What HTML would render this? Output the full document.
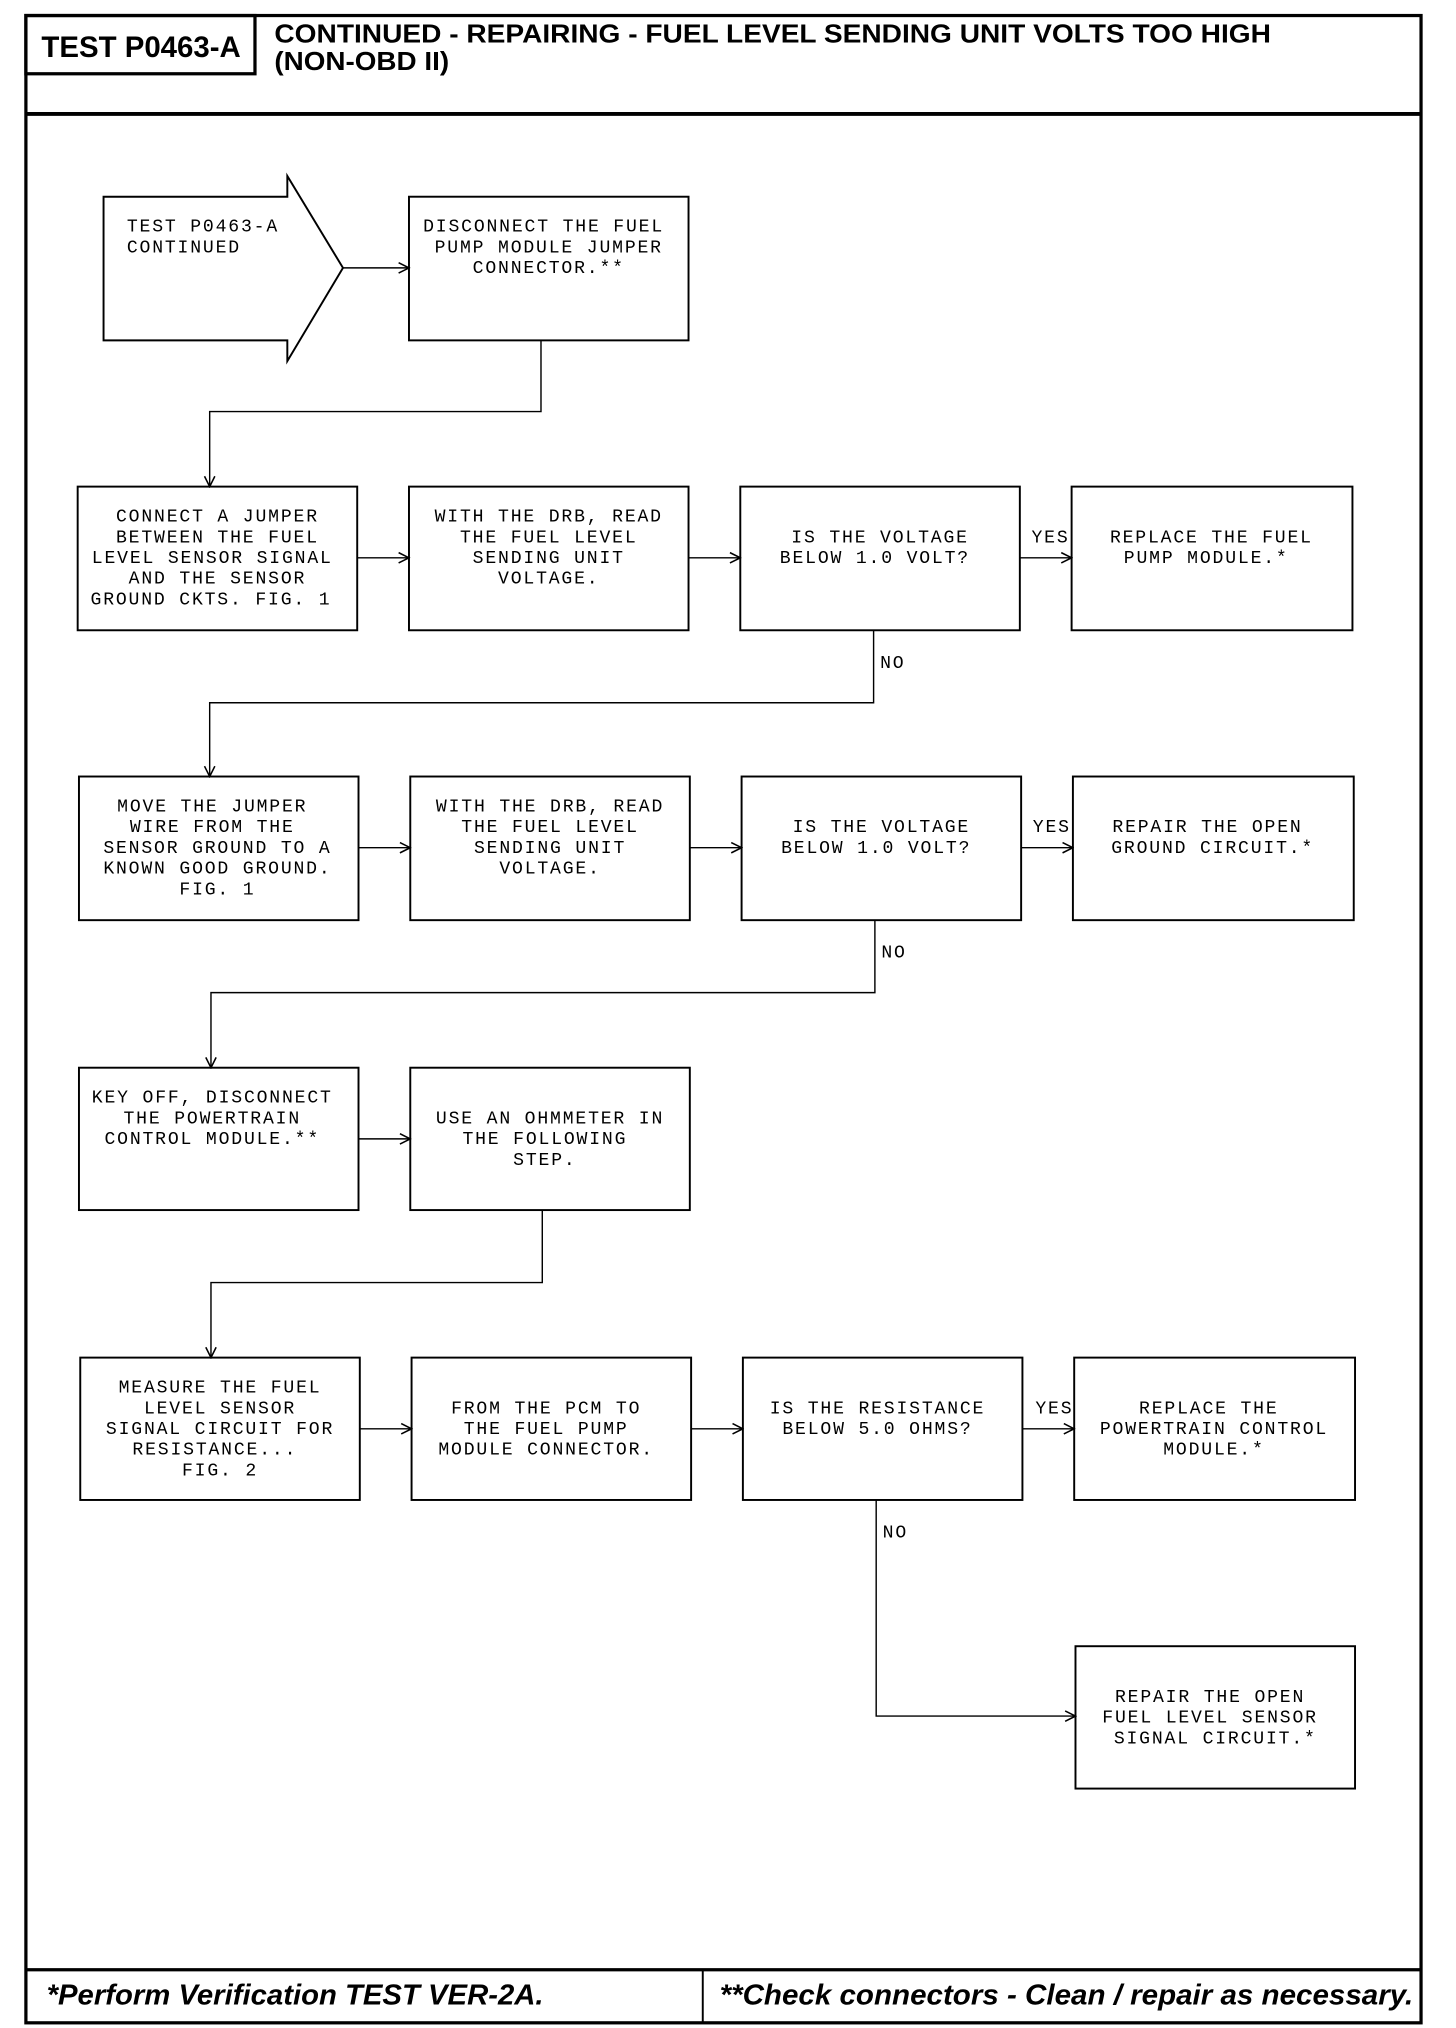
<!DOCTYPE html>
<html><head><meta charset="utf-8"><style>
html,body{margin:0;padding:0;background:#fff;}
svg{display:block;}
.m{font-family:"Liberation Mono",monospace;font-size:14px;letter-spacing:1.4px;text-anchor:middle;fill:#000;}
.l{font-family:"Liberation Mono",monospace;font-size:14px;letter-spacing:1.4px;fill:#000;}
.h{font-family:"Liberation Sans",sans-serif;font-weight:bold;fill:#000;}
</style></head><body>
<svg width="1456" height="2028" viewBox="0 0 1125 1567" xmlns="http://www.w3.org/2000/svg">
<defs><marker id="a" markerWidth="10" markerHeight="10" refX="9" refY="5" orient="auto" markerUnits="userSpaceOnUse"><path d="M1,1 L9,5 L1,9" fill="none" stroke="#000" stroke-width="1.2"/></marker></defs>
<g fill="none" stroke="#000">
<rect x="20" y="12" width="1078" height="1551" stroke-width="2.5"/>
<line x1="20" y1="88" x2="1098" y2="88" stroke-width="3"/>
<rect x="20" y="12" width="177" height="45" stroke-width="2.5"/>
<line x1="20" y1="1522" x2="1098" y2="1522" stroke-width="2.5"/>
<line x1="543" y1="1522" x2="543" y2="1563" stroke-width="1.5"/>
<path d="M80,152 L222,152 L222,136 L265,207 L222,279 L222,263 L80,263 Z" stroke-width="1.5"/>
<g stroke-width="1.5">
<rect x="316" y="152" width="216" height="111"/>
<rect x="60" y="376" width="216" height="111"/><rect x="316" y="376" width="216" height="111"/><rect x="572" y="376" width="216" height="111"/><rect x="828" y="376" width="217" height="111"/>
<rect x="61" y="600" width="216" height="111"/><rect x="317" y="600" width="216" height="111"/><rect x="573" y="600" width="216" height="111"/><rect x="829" y="600" width="217" height="111"/>
<rect x="61" y="825" width="216" height="110"/><rect x="317" y="825" width="216" height="110"/>
<rect x="62" y="1049" width="216" height="110"/><rect x="318" y="1049" width="216" height="110"/><rect x="574" y="1049" width="216" height="110"/><rect x="830" y="1049" width="217" height="110"/>
<rect x="831" y="1272" width="216" height="110"/>
</g>
<g stroke-width="1.1" marker-end="url(#a)">
<line x1="265" y1="207" x2="316" y2="207"/>
<polyline points="418,263 418,318 162,318 162,376"/>
<line x1="276" y1="431" x2="316" y2="431"/><line x1="532" y1="431" x2="572" y2="431"/><line x1="788" y1="431" x2="828" y2="431"/>
<polyline points="675,487 675,543 162,543 162,600"/>
<line x1="277" y1="655" x2="317" y2="655"/><line x1="533" y1="655" x2="573" y2="655"/><line x1="789" y1="655" x2="829" y2="655"/>
<polyline points="676,711 676,767 163,767 163,825"/>
<line x1="277" y1="880" x2="317" y2="880"/>
<polyline points="419,935 419,991 163,991 163,1049"/>
<line x1="278" y1="1104" x2="318" y2="1104"/><line x1="534" y1="1104" x2="574" y2="1104"/><line x1="790" y1="1104" x2="830" y2="1104"/>
<polyline points="677,1159 677,1326 831,1326"/>
</g>
</g>
<text class="h" x="32" y="44" font-size="23" textLength="154" lengthAdjust="spacingAndGlyphs">TEST P0463-A</text>
<text class="h" x="212" y="33" font-size="20" textLength="770" lengthAdjust="spacingAndGlyphs">CONTINUED - REPAIRING - FUEL LEVEL SENDING UNIT VOLTS TOO HIGH</text>
<text class="h" x="212" y="54" font-size="20" textLength="135" lengthAdjust="spacingAndGlyphs">(NON-OBD II)</text>
<text class="h" x="36" y="1549" font-size="22" font-style="italic" textLength="384" lengthAdjust="spacingAndGlyphs">*Perform Verification TEST VER-2A.</text>
<text class="h" x="556" y="1549" font-size="22" font-style="italic" textLength="536" lengthAdjust="spacingAndGlyphs">**Check connectors - Clean / repair as necessary.</text>

<text class="l" x="98" y="179">TEST P0463-A</text><text class="l" x="98" y="195">CONTINUED</text>
<text class="m" x="420"><tspan x="420" y="179">DISCONNECT THE FUEL</tspan><tspan x="424" y="195">PUMP MODULE JUMPER</tspan><tspan x="424" y="211">CONNECTOR.**</tspan></text>

<text class="m"><tspan x="168" y="403">CONNECT A JUMPER</tspan><tspan x="168" y="419">BETWEEN THE FUEL</tspan><tspan x="164" y="435">LEVEL SENSOR SIGNAL</tspan><tspan x="168" y="451">AND THE SENSOR</tspan><tspan x="163" y="467">GROUND CKTS. FIG. 1</tspan></text>
<text class="m"><tspan x="424" y="403">WITH THE DRB, READ</tspan><tspan x="424" y="419">THE FUEL LEVEL</tspan><tspan x="424" y="435">SENDING UNIT</tspan><tspan x="424" y="451">VOLTAGE.</tspan></text>
<text class="m"><tspan x="680" y="419">IS THE VOLTAGE</tspan><tspan x="676" y="435">BELOW 1.0 VOLT?</tspan></text>
<text class="m"><tspan x="936" y="419">REPLACE THE FUEL</tspan><tspan x="932" y="435">PUMP MODULE.*</tspan></text>
<text class="l" x="797" y="419">YES</text><text class="l" x="680" y="516">NO</text>

<text class="m"><tspan x="164" y="627">MOVE THE JUMPER</tspan><tspan x="164" y="643">WIRE FROM THE</tspan><tspan x="168" y="659">SENSOR GROUND TO A</tspan><tspan x="168" y="675">KNOWN GOOD GROUND.</tspan><tspan x="168" y="691">FIG. 1</tspan></text>
<text class="m"><tspan x="425" y="627">WITH THE DRB, READ</tspan><tspan x="425" y="643">THE FUEL LEVEL</tspan><tspan x="425" y="659">SENDING UNIT</tspan><tspan x="425" y="675">VOLTAGE.</tspan></text>
<text class="m"><tspan x="681" y="643">IS THE VOLTAGE</tspan><tspan x="677" y="659">BELOW 1.0 VOLT?</tspan></text>
<text class="m"><tspan x="933" y="643">REPAIR THE OPEN</tspan><tspan x="937" y="659">GROUND CIRCUIT.*</tspan></text>
<text class="l" x="798" y="643">YES</text><text class="l" x="681" y="740">NO</text>

<text class="m"><tspan x="164" y="852">KEY OFF, DISCONNECT</tspan><tspan x="164" y="868">THE POWERTRAIN</tspan><tspan x="164" y="884">CONTROL MODULE.**</tspan></text>
<text class="m"><tspan x="425" y="868">USE AN OHMMETER IN</tspan><tspan x="421" y="884">THE FOLLOWING</tspan><tspan x="421" y="900">STEP.</tspan></text>

<text class="m"><tspan x="170" y="1076">MEASURE THE FUEL</tspan><tspan x="170" y="1092">LEVEL SENSOR</tspan><tspan x="170" y="1108">SIGNAL CIRCUIT FOR</tspan><tspan x="166" y="1124">RESISTANCE...</tspan><tspan x="170" y="1140">FIG. 2</tspan></text>
<text class="m"><tspan x="422" y="1092">FROM THE PCM TO</tspan><tspan x="422" y="1108">THE FUEL PUMP</tspan><tspan x="422" y="1124">MODULE CONNECTOR.</tspan></text>
<text class="m"><tspan x="678" y="1092">IS THE RESISTANCE</tspan><tspan x="678" y="1108">BELOW 5.0 OHMS?</tspan></text>
<text class="m"><tspan x="934" y="1092">REPLACE THE</tspan><tspan x="938" y="1108">POWERTRAIN CONTROL</tspan><tspan x="938" y="1124">MODULE.*</tspan></text>
<text class="l" x="800" y="1092">YES</text><text class="l" x="682" y="1188">NO</text>

<text class="m"><tspan x="935" y="1315">REPAIR THE OPEN</tspan><tspan x="935" y="1331">FUEL LEVEL SENSOR</tspan><tspan x="939" y="1347">SIGNAL CIRCUIT.*</tspan></text>
</svg>
</body></html>
